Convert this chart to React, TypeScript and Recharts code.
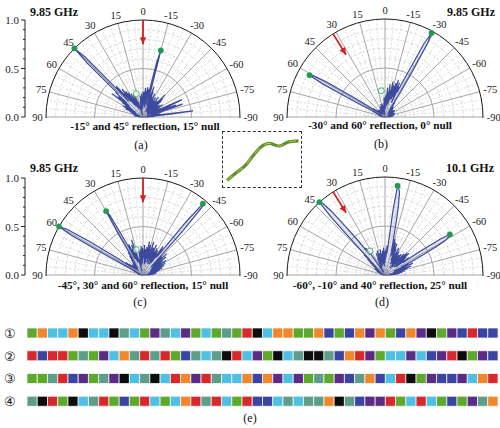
import React from 'react';
import {
  RadarChart, Radar, PolarGrid, PolarAngleAxis, PolarRadiusAxis,
  LineChart, Line, XAxis, YAxis, BarChart, Bar, Cell,
} from 'recharts';

const SERIF = '"Liberation Serif", "Times New Roman", Times, serif';
const BLUE = '#3c4b9d';
const GREEN = '#1e9b50';
const RED = '#d81f1f';

// ---------- data ----------
const ANGLES = Array.from({ length: 181 }, (_, i) => i - 90); // -90 .. 90 deg
const angleTicks = [-90, -75, -60, -45, -30, -15, 0, 15, 30, 45, 60, 75, 90];
const radiusTicks = [0, 0.1, 0.2, 0.3, 0.4, 0.5, 0.6, 0.7, 0.8, 0.9, 1.0];
const radiusLabels = [0, 0.5, 1.0];

const patternA = [
  0.03, 0.08, 0.05, 0.12, 0.06, 0.15, 0.30, 0.52, 0.10, 0.05, 0.18, 0.07, 0.04, 0.14, 0.06,
  0.20, 0.08, 0.25, 0.43, 0.12, 0.36, 0.09, 0.22, 0.30, 0.44, 0.15, 0.07, 0.20, 0.11, 0.05,
  0.18, 0.08, 0.24, 0.06, 0.15, 0.10, 0.21, 0.05, 0.13, 0.19, 0.07, 0.25, 0.10, 0.28, 0.12,
  0.32, 0.08, 0.17, 0.22, 0.06, 0.18, 0.11, 0.26, 0.07, 0.15, 0.20, 0.09, 0.24, 0.12, 0.18,
  0.08, 0.21, 0.14, 0.27, 0.06, 0.19, 0.23, 0.10, 0.28, 0.15, 0.33, 0.12, 0.25, 0.20, 0.36,
  0.71, 0.58, 0.14, 0.29, 0.13, 0.24, 0.31, 0.10, 0.27, 0.18, 0.30, 0.14, 0.26, 0.22, 0.12,
  0.26, 0.10, 0.21, 0.16, 0.24, 0.08, 0.19, 0.13, 0.22, 0.07, 0.17, 0.11, 0.06, 0.09, 0.04,
  0.02, 0.05, 0.10, 0.16, 0.08, 0.21, 0.12, 0.18, 0.25, 0.09, 0.20, 0.14, 0.27, 0.11, 0.22,
  0.16, 0.29, 0.13, 0.24, 0.32, 0.15, 0.27, 0.36, 0.20, 0.31, 0.28, 0.42, 0.22, 0.40, 0.86,
  1.00, 0.80, 0.35, 0.38, 0.22, 0.33, 0.18, 0.29, 0.40, 0.15, 0.26, 0.12, 0.22, 0.09, 0.19,
  0.14, 0.24, 0.08, 0.17, 0.11, 0.20, 0.07, 0.15, 0.10, 0.05, 0.13, 0.08, 0.11, 0.04, 0.09,
  0.06, 0.10, 0.04, 0.08, 0.03, 0.07, 0.05, 0.09, 0.03, 0.06, 0.04, 0.05, 0.02, 0.04, 0.03,
  0.02,
];
const patternB = [
  0.02, 0.04, 0.03, 0.06, 0.03, 0.05, 0.08, 0.04, 0.07, 0.03, 0.06, 0.09, 0.04, 0.07, 0.05,
  0.08, 0.04, 0.10, 0.06, 0.03, 0.09, 0.05, 0.11, 0.04, 0.08, 0.06, 0.05, 0.09, 0.04, 0.06,
  0.10, 0.05, 0.07, 0.12, 0.04, 0.06, 0.09, 0.05, 0.08, 0.11, 0.04, 0.07, 0.10, 0.05, 0.08,
  0.06, 0.11, 0.05, 0.09, 0.13, 0.06, 0.10, 0.08, 0.14, 0.07, 0.12, 0.18, 0.10, 0.30, 0.55,
  0.88, 0.98, 0.85, 0.45, 0.28, 0.34, 0.16, 0.38, 0.22, 0.31, 0.40, 0.19, 0.36, 0.25, 0.33,
  0.18, 0.30, 0.37, 0.14, 0.28, 0.22, 0.34, 0.12, 0.26, 0.19, 0.30, 0.10, 0.23, 0.16, 0.21,
  0.08, 0.18, 0.12, 0.20, 0.07, 0.15, 0.10, 0.04, 0.02, 0.05, 0.11, 0.06, 0.13, 0.08, 0.10,
  0.05, 0.12, 0.07, 0.14, 0.09, 0.11, 0.06, 0.10, 0.08, 0.05, 0.09, 0.12, 0.07, 0.04, 0.08,
  0.05, 0.08, 0.04, 0.07, 0.03, 0.06, 0.09, 0.04, 0.07, 0.05, 0.08, 0.04, 0.06, 0.10, 0.05,
  0.07, 0.04, 0.08, 0.05, 0.09, 0.06, 0.10, 0.05, 0.12, 0.08, 0.15, 0.10, 0.12, 0.35, 0.70,
  0.84, 0.88, 0.72, 0.30, 0.10, 0.14, 0.06, 0.10, 0.05, 0.08, 0.04, 0.07, 0.03, 0.05, 0.03,
  0.04, 0.07, 0.03, 0.06, 0.04, 0.05, 0.03, 0.05, 0.02, 0.04, 0.03, 0.04, 0.02, 0.03, 0.02,
  0.02,
];
const patternC = [
  0.03, 0.05, 0.08, 0.04, 0.10, 0.06, 0.12, 0.05, 0.09, 0.14, 0.07, 0.11, 0.05, 0.16, 0.08,
  0.12, 0.06, 0.18, 0.09, 0.14, 0.21, 0.07, 0.16, 0.11, 0.24, 0.08, 0.19, 0.13, 0.26, 0.10,
  0.22, 0.15, 0.28, 0.09, 0.20, 0.13, 0.25, 0.17, 0.30, 0.11, 0.23, 0.18, 0.33, 0.14, 0.27,
  0.20, 0.12, 0.30, 0.62, 0.93, 0.96, 0.70, 0.30, 0.22, 0.32, 0.36, 0.15, 0.26, 0.19, 0.29,
  0.13, 0.24, 0.31, 0.16, 0.27, 0.20, 0.34, 0.12, 0.25, 0.30, 0.18, 0.23, 0.36, 0.14, 0.28,
  0.21, 0.32, 0.17, 0.26, 0.35, 0.13, 0.24, 0.29, 0.11, 0.22, 0.27, 0.16, 0.31, 0.20, 0.25,
  0.18, 0.28, 0.12, 0.23, 0.30, 0.15, 0.21, 0.26, 0.10, 0.19, 0.24, 0.13, 0.17, 0.09, 0.06,
  0.04, 0.10, 0.22, 0.38, 0.15, 0.27, 0.33, 0.14, 0.29, 0.20, 0.35, 0.18, 0.30, 0.45, 0.70,
  0.76, 0.50, 0.20, 0.28, 0.14, 0.24, 0.11, 0.20, 0.09, 0.17, 0.12, 0.08, 0.15, 0.10, 0.07,
  0.12, 0.06, 0.10, 0.15, 0.08, 0.13, 0.09, 0.18, 0.11, 0.22, 0.14, 0.20, 0.38, 0.65, 0.92,
  1.00, 0.85, 0.40, 0.15, 0.08, 0.12, 0.06, 0.10, 0.05, 0.08, 0.04, 0.07, 0.03, 0.06, 0.04,
  0.05, 0.03, 0.06, 0.02, 0.04, 0.03, 0.05, 0.02, 0.04, 0.03, 0.02, 0.03, 0.02, 0.02, 0.01,
  0.01,
];
const patternD = [
  0.02, 0.05, 0.09, 0.04, 0.12, 0.07, 0.15, 0.05, 0.10, 0.18, 0.06, 0.13, 0.21, 0.08, 0.16,
  0.11, 0.24, 0.09, 0.19, 0.28, 0.12, 0.22, 0.15, 0.31, 0.10, 0.26, 0.18, 0.30, 0.45, 0.62,
  0.72, 0.76, 0.78, 0.68, 0.40, 0.22, 0.30, 0.14, 0.25, 0.18, 0.28, 0.12, 0.33, 0.20, 0.26,
  0.32, 0.15, 0.24, 0.29, 0.11, 0.22, 0.18, 0.27, 0.09, 0.20, 0.25, 0.13, 0.23, 0.17, 0.28,
  0.14, 0.26, 0.21, 0.31, 0.12, 0.24, 0.19, 0.29, 0.16, 0.34, 0.22, 0.27, 0.35, 0.20, 0.38,
  0.25, 0.33, 0.40, 0.55, 0.72, 0.85, 0.90, 0.92, 0.65, 0.30, 0.22, 0.30, 0.18, 0.26, 0.15,
  0.24, 0.12, 0.21, 0.28, 0.09, 0.19, 0.25, 0.14, 0.22, 0.11, 0.18, 0.27, 0.13, 0.20, 0.16,
  0.23, 0.10, 0.17, 0.26, 0.12, 0.21, 0.15, 0.24, 0.08, 0.19, 0.13, 0.09, 0.05, 0.03, 0.06,
  0.04, 0.08, 0.03, 0.12, 0.22, 0.30, 0.34, 0.26, 0.45, 0.62, 0.85, 0.97, 1.00, 0.80, 0.40,
  0.22, 0.30, 0.16, 0.24, 0.12, 0.20, 0.09, 0.16, 0.07, 0.13, 0.10, 0.06, 0.11, 0.05, 0.08,
  0.12, 0.06, 0.10, 0.04, 0.08, 0.05, 0.09, 0.03, 0.07, 0.04, 0.06, 0.03, 0.05, 0.02, 0.04,
  0.03, 0.05, 0.02, 0.04, 0.03, 0.02, 0.04, 0.02, 0.03, 0.02, 0.03, 0.02, 0.01, 0.02, 0.01,
  0.01,
];

const peaksA = [{ a: 45, r: 1.0 }, { a: -15, r: 0.71 }];
const peaksB = [{ a: -29, r: 0.98 }, { a: 61, r: 0.88 }];
const peaksC = [{ a: 60, r: 1.0 }, { a: 30, r: 0.76 }, { a: -40, r: 0.96 }];
const peaksD = [{ a: 42, r: 1.0 }, { a: -8, r: 0.92 }, { a: -58, r: 0.78 }];
const nullA = [{ a: 16, r: 0.25 }];
const nullB = [{ a: 8, r: 0.27 }];
const nullC = [{ a: 15, r: 0.27 }];
const nullD = [{ a: 32, r: 0.29 }];
const arrowA = [{ a: 0, r: 1.0 }, { a: 0, r: 0.75 }];
const arrowB = [{ a: 32, r: 1.0 }, { a: 32, r: 0.75 }];
const arrowC = [{ a: 0, r: 1.0 }, { a: 0, r: 0.75 }];
const arrowD = [{ a: 32, r: 1.0 }, { a: 32, r: 0.75 }];

const profileX = [4.2, 14.2, 22.5, 30.5, 39.2, 47.5, 57.5, 67.5, 77.5];
const profileY = [5.8, 14.2, 20.8, 30.8, 40.8, 44.2, 41.5, 45.8, 46.8];

const stripRows = [
  'GOCCOKCCKTCGPTCPGCGTGRKCOOGGOBGBOPOGBOPKGPBRBB',
  'RBRRGTGPCOTRTRGBTCTKRCPGKCTKKTBORPGCCPCBPRKGPB',
  'GGTRBPGTPKCTKCROPRTCCOBOPCPGTGPBTOBCRKGPBBPCOR',
  'TKRGKCTRGBGRCGCORTRCGRBBCTCTTOKTBPPRGCRCGBGPTO',
];
const stripLabels = ['①', '②', '③', '④'];
const STRIP_COLORS: Record<string, string> = {
  G: '#5ea82b', O: '#f0872d', C: '#4fc0e4', K: '#0d0d0d',
  T: '#5e9d89', P: '#5b2c85', R: '#d7282b', B: '#3945a0',
};

// ---------- helpers ----------
const zip = (vals: number[]) => ANGLES.map((a, i) => ({ a, r: vals[i] }));

const Txt = ({ x, y, children, size = 11, bold = false, anchor = 'middle' }: any) => (
  <div
    style={{
      position: 'absolute', left: x, top: y,
      transform: anchor === 'middle' ? 'translate(-50%,-50%)' : anchor === 'start' ? 'translate(0,-50%)' : 'translate(-100%,-50%)',
      fontFamily: SERIF, fontSize: size, fontWeight: bold ? 700 : 400,
      whiteSpace: 'nowrap', lineHeight: 1, color: '#111',
    }}
  >
    {children}
  </div>
);

const AngleTick = (props: any) => {
  const { x, y, payload } = props;
  const v = payload.value;
  const th = ((v + 90) * Math.PI) / 180;
  const ux = Math.cos(th);
  const uy = -Math.sin(th);
  const label = String(v);
  const w = label.length * 4.9;
  const h = 9;
  return (
    <text
      x={x + ux * (w / 2 + 0.5)}
      y={y + uy * (h / 2 + 1)}
      textAnchor="middle"
      dominantBaseline="central"
      fontSize={10.5}
      fontFamily={SERIF}
      fill="#222"
    >
      {label}
    </text>
  );
};

const majorSpokes = angleTicks.map((a) => a + 90);
const minorSpokes = Array.from({ length: 37 }, (_, i) => i * 5).filter((t) => t % 15 !== 0);
const dashedRadii = [0.1, 0.2, 0.3, 0.4, 0.6, 0.7, 0.8, 0.9];

function Layer({ data, cx, cy, R, H, children }: any) {
  return (
    <div style={{ position: 'absolute', left: 0, top: 0 }}>
      <RadarChart
        width={250}
        height={H}
        data={data}
        cx={cx}
        cy={cy}
        outerRadius={R}
        innerRadius={0}
        startAngle={0}
        endAngle={180}
        margin={{ top: 0, right: 0, bottom: 0, left: 0 }}
      >
        <PolarAngleAxis dataKey="a" type="number" domain={[-90, 90]} tick={false} axisLine={false} tickLine={false} />
        <PolarRadiusAxis type="number" domain={[0, 1]} tick={false} axisLine={false} tickLine={false} />
        {children}
      </RadarChart>
    </div>
  );
}

function PolarPanel({ left, top, cx, cy, R, labelW, pattern, peaks, nul, arrow }: any) {
  const H = cy * 2;
  const arrowDot = (p: any) => {
    if (p.index !== 1) return <g key={`ad-${p.index}`} />;
    const a = (arrow[1].a * Math.PI) / 180;
    const ux = -Math.sin(a);
    const uy = -Math.cos(a);
    const px = -uy;
    const py = ux;
    const bx = p.cx + ux * 7;
    const by = p.cy + uy * 7;
    return (
      <polygon
        key={`ad-${p.index}`}
        points={`${p.cx},${p.cy} ${bx + px * 3.2},${by + py * 3.2} ${bx - px * 3.2},${by - py * 3.2}`}
        fill={RED}
      />
    );
  };
  return (
    <div style={{ position: 'absolute', left, top, width: 250, height: cy + 16 }}>
      <div style={{ position: 'absolute', left: 0, top: 0, width: 250, height: cy + 1, overflow: 'hidden' }}>
        <Layer data={zip(pattern)} cx={cx} cy={cy} R={R} H={H}>
          <PolarGrid gridType="circle" radialLines={false} polarAngles={[]} polarRadius={dashedRadii.map((v) => v * R)} stroke="#d9d9d9" strokeDasharray="3 2" />
          <PolarGrid gridType="circle" radialLines polarAngles={minorSpokes} polarRadius={[]} stroke="#dcdcdc" strokeDasharray="2 2" />
          <PolarGrid gridType="circle" radialLines polarAngles={majorSpokes} polarRadius={[0.5 * R]} stroke="#a6a6a6" />
          <PolarGrid gridType="circle" radialLines={false} polarAngles={[]} polarRadius={[R]} stroke="#1a1a1a" strokeWidth={1} />
          <Radar dataKey="r" stroke={BLUE} strokeWidth={1.2} fill={BLUE} fillOpacity={0.14} dot={false} isAnimationActive={false} />
        </Layer>
        <Layer data={arrow} cx={cx} cy={cy} R={R} H={H}>
          <Radar dataKey="r" stroke={RED} strokeWidth={1.8} fill="none" dot={arrowDot} isAnimationActive={false} />
        </Layer>
        <Layer data={peaks} cx={cx} cy={cy} R={R} H={H}>
          <Radar dataKey="r" stroke="none" fill="none" dot={{ r: 2.7, fill: GREEN, stroke: GREEN, strokeWidth: 0.5 }} isAnimationActive={false} />
        </Layer>
        <Layer data={nul} cx={cx} cy={cy} R={R} H={H}>
          <Radar dataKey="r" stroke="none" fill="none" dot={{ r: 3, fill: '#ffffff', fillOpacity: 0.6, stroke: '#3cb86a', strokeWidth: 1 }} isAnimationActive={false} />
        </Layer>
      </div>
      <div style={{ position: 'absolute', left: 0, top: 0 }}>
        <RadarChart
          width={labelW}
          height={cy + 16}
          data={angleTicks.map((a) => ({ a, r: 0 }))}
          cx={cx}
          cy={cy}
          outerRadius={R}
          innerRadius={0}
          startAngle={0}
          endAngle={180}
          margin={{ top: 0, right: 0, bottom: 0, left: 0 }}
        >
          <PolarAngleAxis dataKey="a" type="number" domain={[-90, 90]} ticks={angleTicks} tick={AngleTick} tickSize={3} axisLine={false} tickLine={false} />
          <PolarRadiusAxis type="number" domain={[0, 1]} tick={false} axisLine={false} tickLine={false} />
        </RadarChart>
      </div>
    </div>
  );
}

const RTick = (props: any) => {
  const { x, y, payload } = props;
  const v = payload.value;
  const major = radiusLabels.some((m) => Math.abs(m - v) < 1e-6);
  return (
    <g>
      <line x1={x} x2={x - (major ? 4 : 2)} y1={y} y2={y} stroke="#222" strokeWidth={1} />
      {major && (
        <text x={x - 6} y={y} textAnchor="end" dominantBaseline="central" fontSize={11} fontFamily={SERIF} fill="#222">
          {v.toFixed(1)}
        </text>
      )}
    </g>
  );
};

const axisData = radiusTicks.map((v, i) => ({ x: i, y: v }));

function RadiusAxis({ top }: any) {
  return (
    <div style={{ position: 'absolute', left: 0, top }}>
      <LineChart width={40} height={135} data={axisData} margin={{ top: 20, right: 0, bottom: 18, left: 0 }}>
        <XAxis dataKey="x" hide />
        <YAxis
          type="number"
          dataKey="y"
          domain={[0, 1]}
          ticks={radiusTicks}
          interval={0}
          width={25}
          tickSize={0}
          tickMargin={0}
          tickLine={false}
          axisLine={{ stroke: '#222' }}
          tick={(p: any) => <RTick {...p} />}
        />
        <Line dataKey="y" stroke="none" dot={false} isAnimationActive={false} />
      </LineChart>
    </div>
  );
}

const stripData = stripRows.map((seq, i) => {
  const row: any = { label: stripLabels[i] };
  for (let k = 0; k < seq.length; k++) row['s' + k] = 1;
  return row;
});
const nSquares = stripRows[0].length;

export default function App() {
  const profile = profileX.map((x, i) => ({ x, y: profileY[i] }));
  return (
    <div style={{ position: 'absolute', left: 0, top: 0, width: 500, height: 428, background: '#fff', overflow: 'hidden' }}>
      <RadiusAxis top={0} />
      <RadiusAxis top={158} />
      <PolarPanel left={0} top={0} cx={143} cy={117} R={97} labelW={270} pattern={patternA} peaks={peaksA} nul={nullA} arrow={arrowA} />
      <PolarPanel left={250} top={0} cx={135} cy={117} R={98} labelW={250} pattern={patternB} peaks={peaksB} nul={nullB} arrow={arrowB} />
      <PolarPanel left={0} top={158} cx={143} cy={117} R={97} labelW={270} pattern={patternC} peaks={peaksC} nul={nullC} arrow={arrowC} />
      <PolarPanel left={250} top={158} cx={135} cy={117} R={98} labelW={250} pattern={patternD} peaks={peaksD} nul={nullD} arrow={arrowD} />

      <Txt x={30} y={12} size={12} bold anchor="start">9.85 GHz</Txt>
      <Txt x={495} y={12} size={12} bold anchor="end">9.85 GHz</Txt>
      <Txt x={30} y={168} size={12} bold anchor="start">9.85 GHz</Txt>
      <Txt x={494} y={168} size={12} bold anchor="end">10.1 GHz</Txt>

      <Txt x={145} y={127} size={11.2} bold>-15° and 45° reflection, 15° null</Txt>
      <Txt x={380} y={126} size={11.2} bold>-30° and 60° reflection, 0° null</Txt>
      <Txt x={143} y={286} size={11.2} bold>-45°, 30° and 60° reflection, 15° null</Txt>
      <Txt x={380} y={286} size={11.2} bold>-60°, -10° and 40° reflection, 25° null</Txt>

      <Txt x={141} y={145} size={12}>(a)</Txt>
      <Txt x={381} y={144} size={12}>(b)</Txt>
      <Txt x={140} y={302} size={12}>(c)</Txt>
      <Txt x={382} y={302} size={12}>(d)</Txt>

      <div
        style={{
          position: 'absolute', left: 222, top: 131, width: 80, height: 57,
          border: '1.4px dashed #333', background: '#fff', boxSizing: 'border-box',
        }}
      >
        <LineChart width={77} height={54} data={profile} margin={{ top: 0, right: 0, bottom: 0, left: 0 }}>
          <XAxis type="number" dataKey="x" domain={[0, 79]} hide />
          <YAxis type="number" domain={[0, 56]} hide />
          <Line type="monotone" dataKey="y" stroke="#5f8f2f" strokeWidth={3.2} dot={false} isAnimationActive={false} />
          <Line type="monotone" dataKey="y" stroke="#b4c246" strokeWidth={1.1} strokeDasharray="7 6" dot={false} isAnimationActive={false} />
        </LineChart>
      </div>

      <div style={{ position: 'absolute', left: 0, top: 322 }}>
        <BarChart width={500} height={91} data={stripData} layout="vertical" barSize={10} margin={{ top: 0, right: 2, bottom: 0, left: 0 }}>
          <XAxis type="number" domain={[0, nSquares]} hide />
          <YAxis
            type="category"
            dataKey="label"
            width={27}
            interval={0}
            tickLine={false}
            axisLine={false}
            tickSize={0}
            tickMargin={0}
            tick={(p: any) => (
              <text x={p.x - 17} y={p.y} textAnchor="middle" dominantBaseline="central" fontSize={13} fontFamily={SERIF} fill="#222">
                {p.payload.value}
              </text>
            )}
          />
          {Array.from({ length: nSquares }, (_, k) => (
            <Bar key={k} dataKey={'s' + k} stackId="e" stroke="#ffffff" strokeWidth={0.7} isAnimationActive={false}>
              {stripRows.map((seq, i) => (
                <Cell key={i} fill={STRIP_COLORS[seq[k]]} />
              ))}
            </Bar>
          ))}
        </BarChart>
      </div>

      <Txt x={250} y={418} size={12}>(e)</Txt>
    </div>
  );
}
